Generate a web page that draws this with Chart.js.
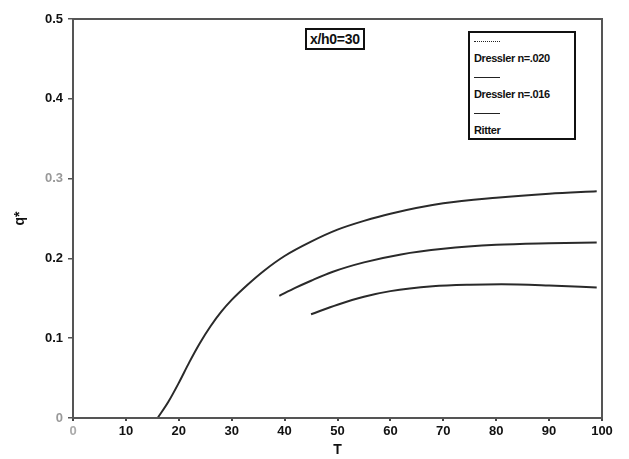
<!DOCTYPE html>
<html>
<head>
<meta charset="utf-8">
<script src="https://cdn.jsdelivr.net/npm/chart.js@4.4.1/dist/chart.umd.min.js"></script>
<style>
  body { margin: 0; background: #fff; }
  #wrap { position: relative; width: 629px; height: 459px; }
  #plot { position: absolute; left: 0; top: 0; }
  .note {
    position: absolute; left: 305px; top: 28px; padding: 1px 3px;
    border: 2px solid #111; font: bold 14px "Liberation Sans", Arial, sans-serif;
    color: #111; letter-spacing: -0.3px; background: #fff;
  }
  #legend {
    position: absolute; left: 468px; top: 31px; width: 104px; height: 105px;
    border: 2px solid #111; background: #fff;
    font: bold 11px "Liberation Sans", Arial, sans-serif; color: #111; letter-spacing: -0.4px;
  }
  #legend .row { position: absolute; left: 4px; }
  #legend .sample { position: absolute; left: 4px; width: 26px; height: 0; }
</style>
</head>
<body>
<div id="wrap">
  <canvas id="plot" width="629" height="459"></canvas>
  <div class="note">x/h0=30</div>
  <div id="legend"></div>
</div>
<script>
// T values and q* values for each curve
const ritterT = [16, 18, 20, 22, 24, 26, 28, 30, 33, 36, 40, 45, 50, 55, 60, 70, 80, 90, 99];
const ritterQ = [0, 0.02, 0.044, 0.07, 0.094, 0.115, 0.133, 0.148, 0.167, 0.184, 0.203, 0.221, 0.236, 0.247, 0.256, 0.269, 0.276, 0.281, 0.284];

const dressler016T = [39, 42, 45, 49, 55, 62, 70, 80, 90, 99];
const dressler016Q = [0.153, 0.163, 0.172, 0.183, 0.195, 0.205, 0.212, 0.217, 0.219, 0.220];

const dressler020T = [45, 50, 55, 60, 68, 75, 81, 90, 99];
const dressler020Q = [0.13, 0.142, 0.152, 0.159, 0.165, 0.167, 0.1675, 0.166, 0.1635];

const seriesLabels = ['Dressler n=.020', 'Dressler n=.016', 'Ritter'];
const legendDash = ['1px dotted #222', '1.5px solid #222', '1.5px solid #222'];

const xTicks = [0, 10, 20, 30, 40, 50, 60, 70, 80, 90, 100];
const yTicks = [0, 0.1, 0.2, 0.3, 0.4, 0.5];

function toPoints(xs, ys) {
  return xs.map((x, i) => ({ x: x, y: ys[i] }));
}

// legend: sample line above each label
const legend = document.getElementById('legend');
seriesLabels.forEach((label, i) => {
  const line = document.createElement('div');
  line.className = 'sample';
  line.style.top = (8 + i * 36) + 'px';
  line.style.borderTop = legendDash[i];
  legend.appendChild(line);
  const text = document.createElement('div');
  text.className = 'row';
  text.style.top = (19 + i * 36) + 'px';
  text.innerText = label;
  legend.appendChild(text);
});

// box around the plot area
const frame = {
  id: 'frame',
  afterDraw(chart) {
    const a = chart.chartArea;
    const ctx = chart.ctx;
    ctx.save();
    ctx.strokeStyle = '#555';
    ctx.lineWidth = 2;
    ctx.strokeRect(a.left, a.top, a.right - a.left, a.bottom - a.top);
    ctx.restore();
  }
};

const font = { family: '"Liberation Sans", Arial, sans-serif', size: 13, weight: 'bold' };
const lineStyle = { borderColor: '#2a2a2a', borderWidth: 2, pointRadius: 0, tension: 0.4, cubicInterpolationMode: 'monotone', fill: false };

new Chart(document.getElementById('plot'), {
  type: 'line',
  data: {
    datasets: [
      Object.assign({ label: seriesLabels[0], data: toPoints(dressler020T, dressler020Q) }, lineStyle),
      Object.assign({ label: seriesLabels[1], data: toPoints(dressler016T, dressler016Q) }, lineStyle),
      Object.assign({ label: seriesLabels[2], data: toPoints(ritterT, ritterQ) }, lineStyle)
    ]
  },
  options: {
    responsive: false,
    animation: false,
    layout: { padding: { left: 0, right: 27, top: 19, bottom: 0 } },
    plugins: { legend: { display: false }, tooltip: { enabled: false } },
    scales: {
      x: {
        type: 'linear', min: 0, max: 100,
        afterBuildTicks: s => { s.ticks = xTicks.map(v => ({ value: v })); },
        afterFit: s => { s.height = 41; },
        grid: { drawOnChartArea: false, tickLength: 3, color: '#444', lineWidth: 2 },
        border: { color: '#555', width: 2 },
        ticks: {
          font: font, padding: 3,
          color: ctx => ctx.tick.value === 0 ? '#aaa' : '#111'
        },
        title: { display: true, text: 'T', font: { family: font.family, size: 14, weight: 'bold' }, color: '#111', padding: { top: -4, bottom: 0 } }
      },
      y: {
        min: 0, max: 0.5,
        afterBuildTicks: s => { s.ticks = yTicks.map(v => ({ value: v })); },
        afterFit: s => { s.width = 73; },
        grid: { drawOnChartArea: false, tickLength: 5, color: '#555', lineWidth: 1.5 },
        border: { color: '#555', width: 2 },
        ticks: {
          font: font, padding: 5,
          color: ctx => (ctx.tick.value === 0 || Math.abs(ctx.tick.value - 0.3) < 1e-9) ? '#999' : '#111',
          callback: v => String(Math.round(v * 10) / 10)
        },
        title: { display: true, text: 'q*', font: { family: font.family, size: 14, weight: 'bold' }, color: '#111', padding: { top: 12, bottom: 6 } }
      }
    }
  },
  plugins: [frame]
});
</script>
</body>
</html>
